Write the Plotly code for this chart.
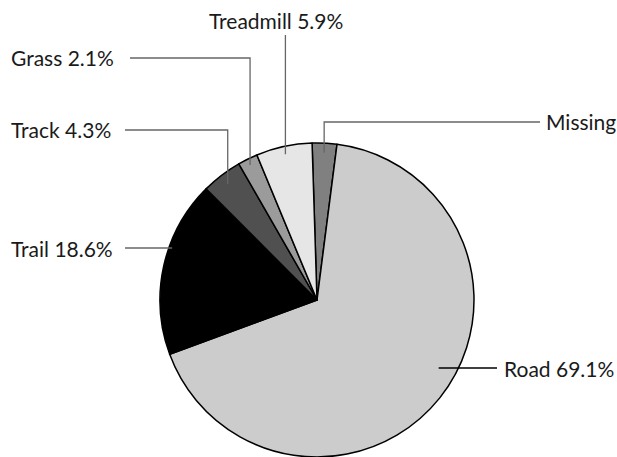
import math
import plotly.graph_objects as go

# ---- data ----
labels = ["Missing", "Road", "Trail", "Track", "Grass", "Treadmill"]
values = [2.6, 69.1, 18.6, 4.3, 2.1, 5.9]
colors = ["#808080", "#cccccc", "#000000", "#505050", "#9b9b9b", "#e6e6e6"]

W, H = 617, 457
CX, CY, R = 317, 301, 158
ROT = -1.8

known_total = sum(v for l, v in zip(labels, values) if l != "Missing")
total = sum(values)

def label_text(l, v):
    if l == "Missing":
        return l
    return f"{l} {v / known_total * 100:.1f}%"

# mid angles (clockwise from 12 o'clock)
mids = {}
acc = ROT
for l, v in zip(labels, values):
    span = v / total * 360
    mids[l] = acc + span / 2
    acc += span

def polar(theta, f):
    t = math.radians(theta)
    return CX + f * R * math.sin(t), CY - f * R * math.cos(t)

def px(x):
    return x / W

def py(y):
    return 1 - y / H

fig = go.Figure(go.Pie(
    labels=labels, values=values, sort=False, direction="clockwise",
    rotation=ROT, textinfo="none", hoverinfo="label+percent",
    marker=dict(colors=colors, line=dict(color="#000000", width=1.5)),
    domain=dict(x=[px(CX - R), px(CX + R)], y=[max(0, (H - CY - R) / H), (H - CY + R) / H]),
    showlegend=False,
))

font = dict(family="Lato, Noto Sans, sans-serif", size=21, color="#1a1a1a")
LINE = "#666666"

# label placement (layout)
place = {
    "Treadmill": dict(x=276, y=20, xanchor="center", kind="vert", f=0.95, ystart=35),
    "Grass": dict(x=10, y=58, xanchor="left", kind="elbow", f=0.96, xstart=130),
    "Track": dict(x=10, y=130, xanchor="left", kind="elbow", f=0.93, xstart=125),
    "Missing": dict(x=617, y=122, xanchor="right", kind="elbow", f=0.94, xstart=540),
    "Trail": dict(x=10, y=248, xanchor="left", kind="edge", xstart=125),
    "Road": dict(x=615, y=368, xanchor="right", kind="inner", xstart=497, inner=0.77, color="#000000"),
}

shapes = []
annotations = []
for l, v in zip(labels, values):
    p = place[l]
    annotations.append(dict(
        x=px(p["x"]), y=py(p["y"]), xref="paper", yref="paper",
        text=label_text(l, v), showarrow=False, xanchor=p["xanchor"], yanchor="middle",
        font=font, borderpad=0,
    ))
    col = p.get("color", LINE)
    ln = dict(color=col, width=1.3)
    if p["kind"] == "vert":
        ax, ay = polar(mids[l], p["f"])
        shapes.append(dict(type="line", xref="paper", yref="paper",
                           x0=px(ax), y0=py(p["ystart"]), x1=px(ax), y1=py(ay), line=ln))
    elif p["kind"] == "elbow":
        ax, ay = polar(mids[l], p["f"])
        shapes.append(dict(type="path", xref="paper", yref="paper",
                           path=f"M {px(p['xstart'])} {py(p['y'])} L {px(ax)} {py(p['y'])} L {px(ax)} {py(ay)}",
                           line=ln))
    elif p["kind"] == "edge":
        ex = CX - math.sqrt(R ** 2 - (p["y"] - CY) ** 2)
        shapes.append(dict(type="line", xref="paper", yref="paper",
                           x0=px(p["xstart"]), y0=py(p["y"]), x1=px(ex + 4), y1=py(p["y"]), line=ln))
    else:
        ix = CX + p["inner"] * R
        shapes.append(dict(type="line", xref="paper", yref="paper",
                           x0=px(p["xstart"]), y0=py(p["y"]), x1=px(ix), y1=py(p["y"]), line=ln))

fig.update_layout(
    width=W, height=H, margin=dict(l=0, r=0, t=0, b=0),
    paper_bgcolor="white", plot_bgcolor="white",
    shapes=shapes, annotations=annotations,
)

fig.write_html(
    "out.html",
    config={"displayModeBar": False},
    post_script="document.body.style.margin='0';document.body.style.padding='0';",
)
